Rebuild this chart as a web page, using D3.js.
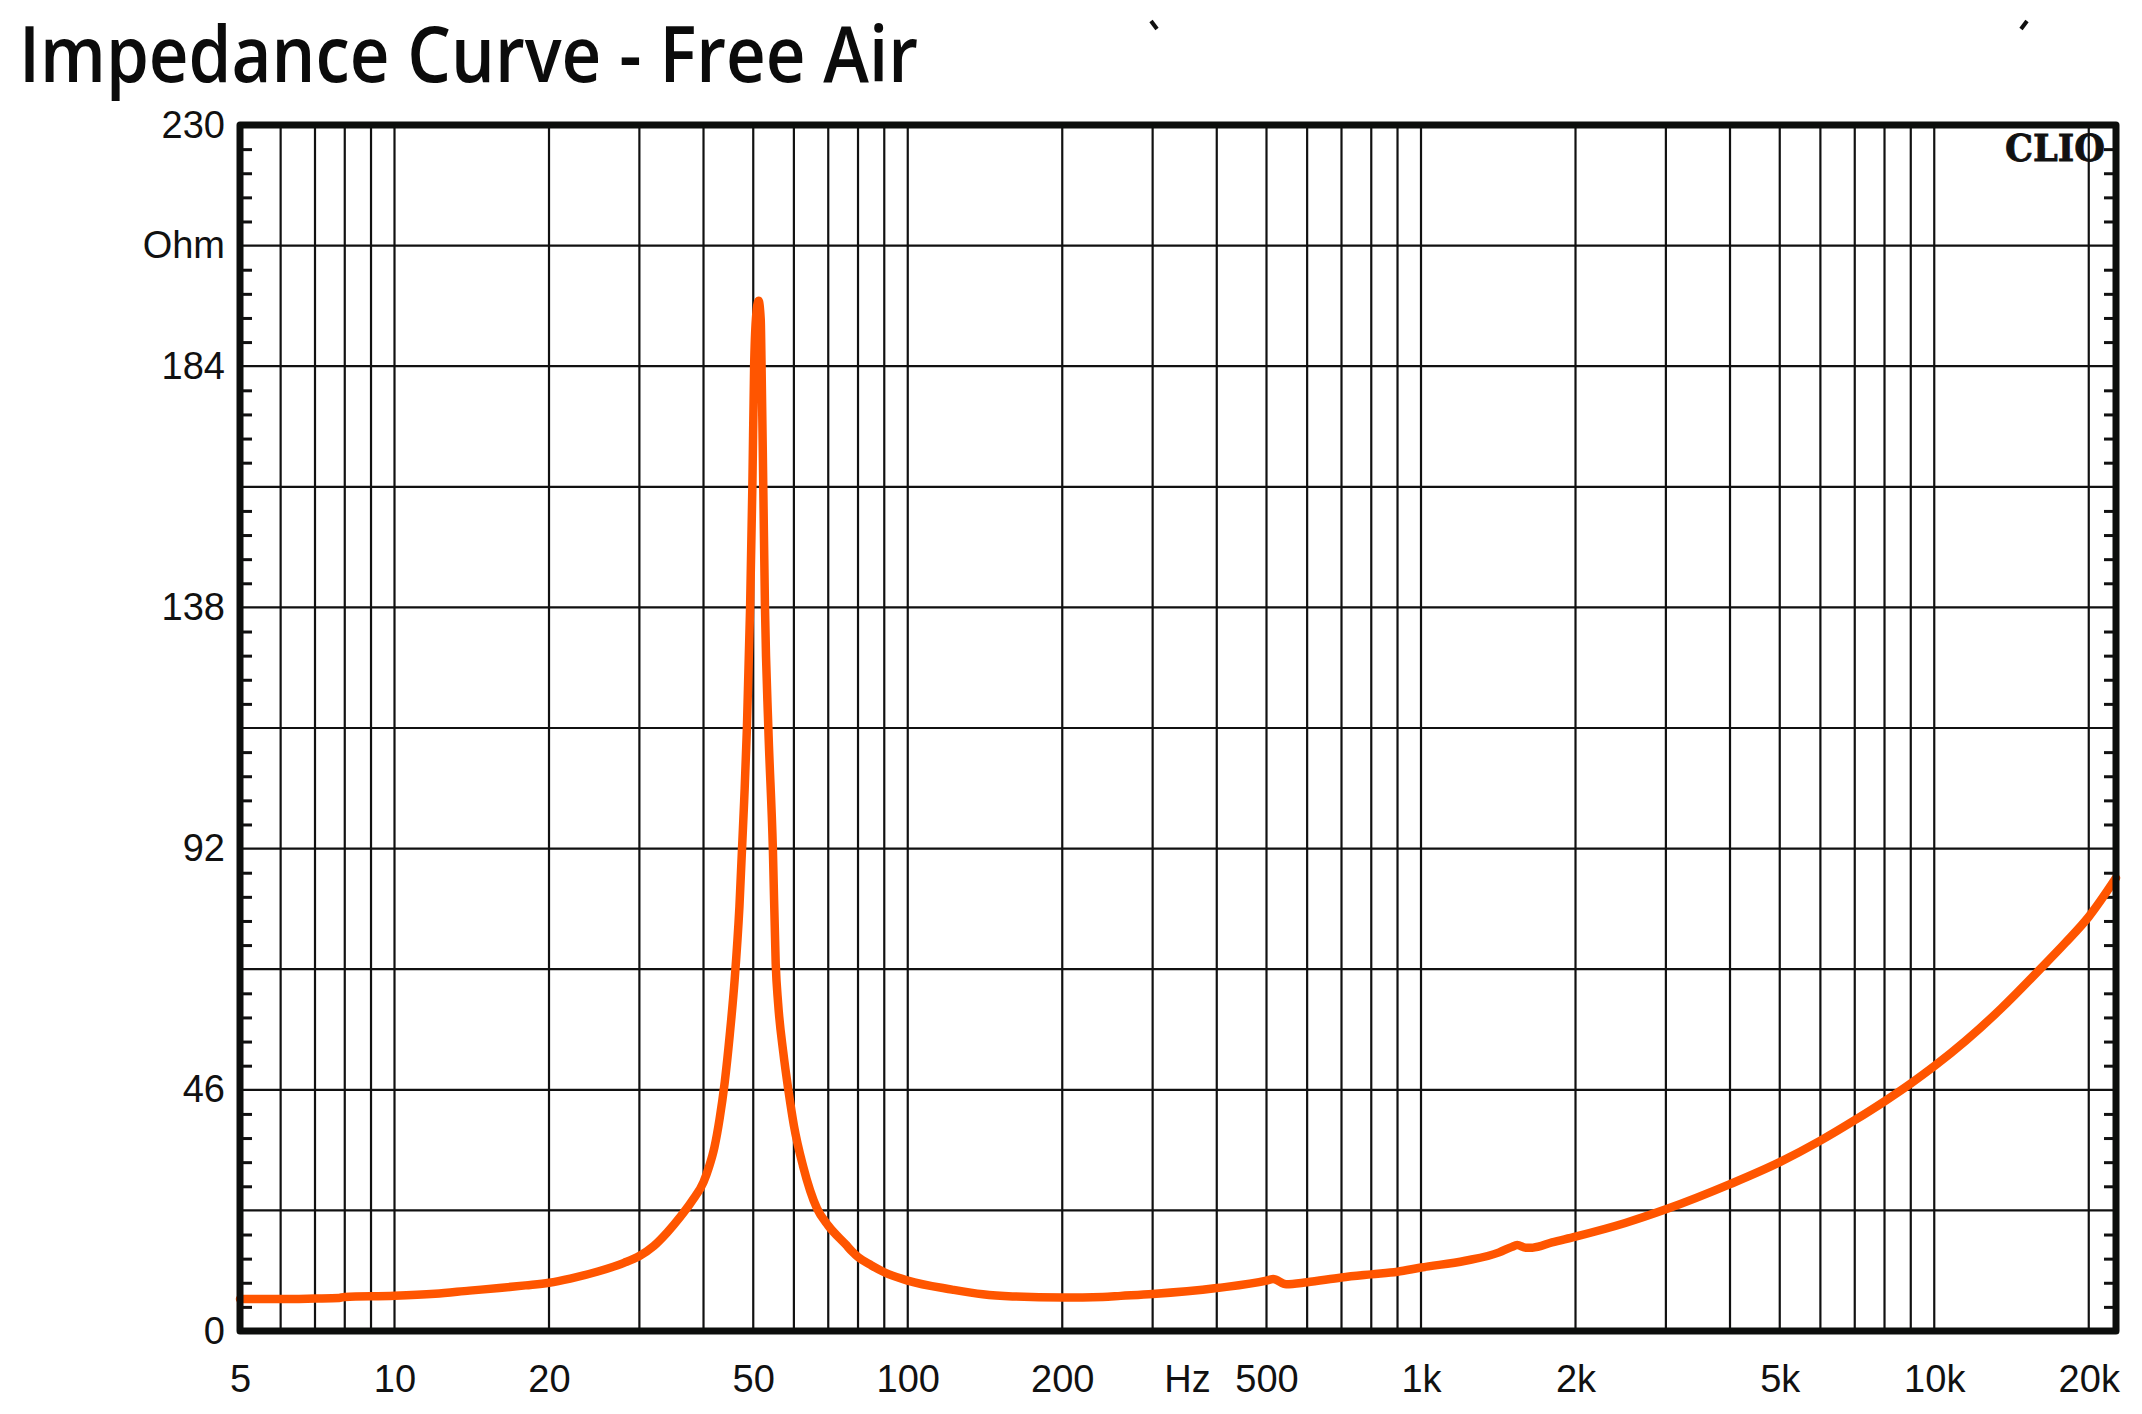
<!DOCTYPE html>
<html>
<head>
<meta charset="utf-8">
<script src="https://d3js.org/d3.v7.min.js"></script>
<style>
  html, body { margin: 0; padding: 0; background: #fff; }
  svg { display: block; }
</style>
</head>
<body>
<svg></svg>
<script>
const freqHz = [5, 6, 7, 7.8, 8, 10, 12, 14, 16, 18, 20, 22, 25, 28, 30, 32, 34, 36, 38, 40,
  41, 42, 43, 44, 45, 46, 47, 48, 48.6, 49.3, 49.8, 50.2, 50.6, 51.2, 51.7, 51.9, 52.3, 52.7,
  53.5, 54.6, 55.3, 55.9, 57.2, 58.6, 60, 62.5, 66.6, 70, 75.7, 78, 80, 85, 90, 100, 122, 140, 160,
  200, 240, 260, 300, 400, 500, 515, 546, 600, 700, 800, 900, 1000, 1220, 1420, 1500, 1540,
  1600, 1650, 1800, 2000, 2500, 3000, 4000, 5000, 6000, 7000, 8000, 9000, 10000, 11500, 13500,
  16000, 18000, 20000, 22600];
const impedanceOhm = [6.1, 6.1, 6.2, 6.3, 6.5, 6.7, 7.1, 7.7, 8.2, 8.7, 9.2, 10.0, 11.4, 13.0, 14.3, 16.2, 18.8, 21.7, 24.8, 28.4,
  31.3, 35.0, 40.5, 47.5, 56.5, 67.0, 81.0, 101, 115, 138, 161, 184, 193, 196.5, 193, 184, 161, 138,
  115, 92, 70, 62.5, 53.2, 45.6, 39.2, 31.5, 23.3, 20.1, 16.5, 15.1, 14.1, 12.5, 11.2, 9.6, 7.9, 7.0, 6.6,
  6.4, 6.5, 6.7, 7.06, 8.2, 9.6, 9.9, 8.9, 9.3, 10.2, 10.8, 11.3, 12.1, 13.4, 15.0, 16.0, 16.4,
  15.9, 15.9, 16.9, 18.0, 20.6, 23.2, 28.0, 32.2, 36.3, 40.2, 43.8, 47.2, 50.5, 55.3, 61.5,
  68.8, 74.0, 79.0, 86.4];

// axis labels
const xTickValues = [5, 10, 20, 50, 100, 200, 350, 500, 1000, 2000, 5000, 10000, 20000];
const xTickLabels = ["5", "10", "20", "50", "100", "200", "Hz", "500", "1k", "2k", "5k", "10k", "20k"];
const yTickValues = [0, 46, 92, 138, 184, 207, 230];
const yTickLabels = ["0", "46", "92", "138", "184", "Ohm", "230"];

const freqMin = 5, freqMax = 22600;
const ohmMax = 230;

// canvas and plot frame
let width = 2142;
let height = 1414;
let plotLeft = 240, plotRight = 2116, plotTop = 125, plotBottom = 1331;

let svg = d3.select("svg")
  .attr("width", width)
  .attr("height", height);

let xScale = d3.scaleLog().domain([freqMin, freqMax]).range([plotLeft, plotRight]);
let yScale = d3.scaleLinear().domain([0, ohmMax]).range([plotBottom, plotTop]);

// title
svg.append("text")
  .attr("x", 19)
  .attr("y", 82)
  .attr("textLength", 899)
  .attr("lengthAdjust", "spacingAndGlyphs")
  .style("font-family", "'Open Sans', 'Noto Sans', sans-serif")
  .style("font-weight", 600)
  .style("font-size", "78px")
  .attr("fill", "#0b0b0b")
  .text("Impedance Curve - Free Air");

// two stray marks at the top edge
svg.append("line").attr("x1", 1151).attr("y1", 21).attr("x2", 1157).attr("y2", 29)
  .attr("stroke", "#111").attr("stroke-width", 4);
svg.append("line").attr("x1", 2027).attr("y1", 21).attr("x2", 2021).attr("y2", 29)
  .attr("stroke", "#111").attr("stroke-width", 4);

// vertical grid: 1..9 of each decade inside the range
let gridFreqs = [];
[1, 10, 100, 1000, 10000].forEach(dec => {
  d3.range(1, 10).forEach(m => {
    let f = dec * m;
    if (f > freqMin && f < freqMax) gridFreqs.push(f);
  });
});

svg.append("g")
  .selectAll("line")
  .data(gridFreqs)
  .enter()
  .append("line")
  .attr("x1", d => xScale(d))
  .attr("x2", d => xScale(d))
  .attr("y1", plotTop)
  .attr("y2", plotBottom)
  .attr("stroke", "#111")
  .attr("stroke-width", 2.2);

// horizontal grid every 23 Ohm
let gridOhms = d3.range(23, ohmMax, 23);
svg.append("g")
  .selectAll("line")
  .data(gridOhms)
  .enter()
  .append("line")
  .attr("x1", plotLeft)
  .attr("x2", plotRight)
  .attr("y1", d => yScale(d))
  .attr("y2", d => yScale(d))
  .attr("stroke", "#111")
  .attr("stroke-width", 2.2);

// small ticks on left and right border
let minorOhms = d3.range(1, 50).map(i => i * 4.6).filter((d, i) => (i + 1) % 5 !== 0);
svg.append("g")
  .attr("transform", "translate(" + plotLeft + ",0)")
  .call(d3.axisRight(yScale).tickValues(minorOhms).tickSize(12).tickFormat(""))
  .call(g => g.select(".domain").remove())
  .selectAll("line").attr("stroke", "#111").attr("stroke-width", 3);
svg.append("g")
  .attr("transform", "translate(" + plotRight + ",0)")
  .call(d3.axisLeft(yScale).tickValues(minorOhms).tickSize(12).tickFormat(""))
  .call(g => g.select(".domain").remove())
  .selectAll("line").attr("stroke", "#111").attr("stroke-width", 3);

// CLIO mark
svg.append("text")
  .attr("x", 2005)
  .attr("y", 161)
  .attr("textLength", 100)
  .attr("lengthAdjust", "spacingAndGlyphs")
  .style("font-family", "'DejaVu Serif', serif")
  .style("font-weight", "bold")
  .style("font-size", "38px")
  .attr("fill", "#111")
  .attr("stroke", "#111")
  .attr("stroke-width", 0.8)
  .text("CLIO");

// impedance curve
let points = freqHz.map((f, i) => [f, impedanceOhm[i]]);
let line = d3.line()
  .x(d => xScale(d[0]))
  .y(d => yScale(d[1]))
  .curve(d3.curveMonotoneX);

svg.append("path")
  .datum(points)
  .attr("d", line)
  .attr("fill", "none")
  .attr("stroke", "#ff5500")
  .attr("stroke-width", 8.5)
  .attr("stroke-linejoin", "round")
  .attr("stroke-linecap", "round");

// frame
svg.append("rect")
  .attr("x", plotLeft)
  .attr("y", plotTop)
  .attr("width", plotRight - plotLeft)
  .attr("height", plotBottom - plotTop)
  .attr("fill", "none")
  .attr("stroke", "#0c0e0c")
  .attr("stroke-width", 7)
  .attr("stroke-linejoin", "round");

// axis labels
let labelFont = "'Liberation Sans', Arial, sans-serif";

let xAxis = svg.append("g")
  .attr("transform", "translate(0," + plotBottom + ")")
  .call(d3.axisBottom(xScale)
    .tickValues(xTickValues)
    .tickFormat((d, i) => xTickLabels[i])
    .tickSize(0)
    .tickPadding(34));
xAxis.select(".domain").remove();
xAxis.selectAll("text")
  .style("font-family", labelFont)
  .style("font-size", "38px")
  .attr("fill", "#111");

let yAxis = svg.append("g")
  .attr("transform", "translate(" + plotLeft + ",0)")
  .call(d3.axisLeft(yScale)
    .tickValues(yTickValues)
    .tickFormat((d, i) => yTickLabels[i])
    .tickSize(0)
    .tickPadding(15));
yAxis.select(".domain").remove();
yAxis.selectAll("text")
  .style("font-family", labelFont)
  .style("font-size", "38px")
  .attr("fill", "#111");
</script>
</body>
</html>
